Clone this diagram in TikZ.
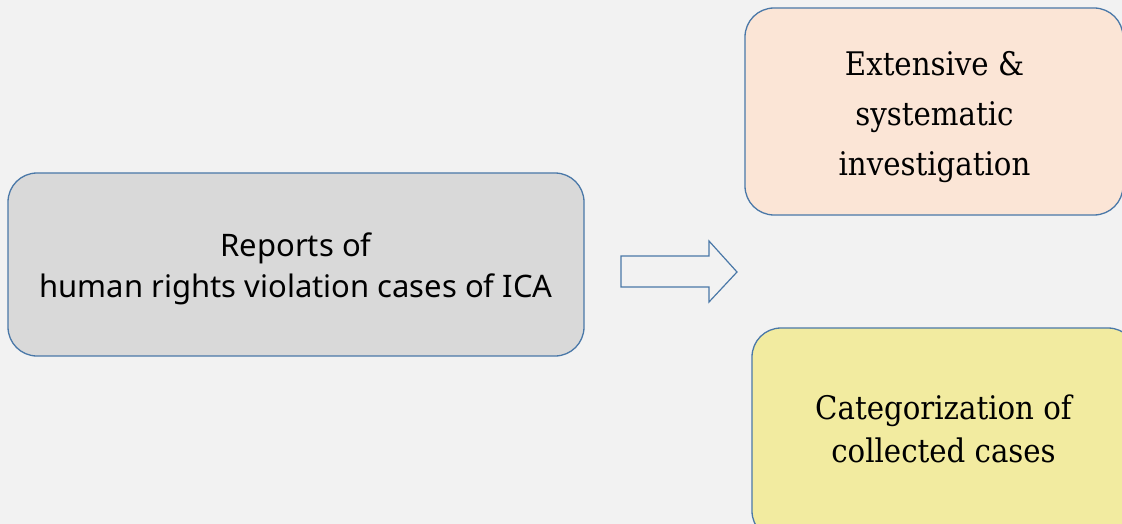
\documentclass[tikz,border=0pt]{standalone}
\usepackage{fontspec}
\newfontfamily\sansbox{Noto Sans}
\newfontfamily\serifbox{DejaVu Serif Condensed}
\definecolor{bg}{HTML}{F2F2F2}
\definecolor{edge}{HTML}{4A78A8}
\definecolor{grayfill}{HTML}{D9D9D9}
\definecolor{peach}{HTML}{FBE5D6}
\definecolor{yellowfill}{HTML}{F2EBA0}
\tikzset{
  roundbox/.style={draw=edge, line width=1.3pt, rounded corners=29pt},
  boxtext/.style={align=center, text=black, inner sep=0pt},
}
\begin{document}
\begin{tikzpicture}[x=1pt,y=-1pt]
\useasboundingbox (0,0) rectangle (1122,524);
\clip (0,0) rectangle (1122,524);
\fill[bg] (0,0) rectangle (1122,524);
% left box
\draw[roundbox, fill=grayfill] (8,173) rectangle (584,356);
\node[boxtext, font=\sansbox\fontsize{31}{41}\selectfont] (reports) at (296,269)
  {Reports of\\human rights violation cases of ICA};
% top right box
\draw[roundbox, fill=peach] (745,8) rectangle (1123,215);
\node[boxtext, font=\serifbox\fontsize{32.5}{50}\selectfont] (invest) at (934.5,117)
  {Extensive \&\\systematic\\investigation};
% bottom right box
\draw[roundbox, fill=yellowfill] (752,328) rectangle (1137,540);
\node[boxtext, font=\serifbox\fontsize{32.5}{43}\selectfont] (categ) at (943.5,429)
  {Categorization of\\collected cases};
% block arrow
\draw[edge, line width=1.2pt, fill=bg, line join=miter]
  (621,256) -- (709,256) -- (709,241) -- (737,272) -- (709,302) -- (709,287) -- (621,287) -- cycle;
\end{tikzpicture}
\end{document}
